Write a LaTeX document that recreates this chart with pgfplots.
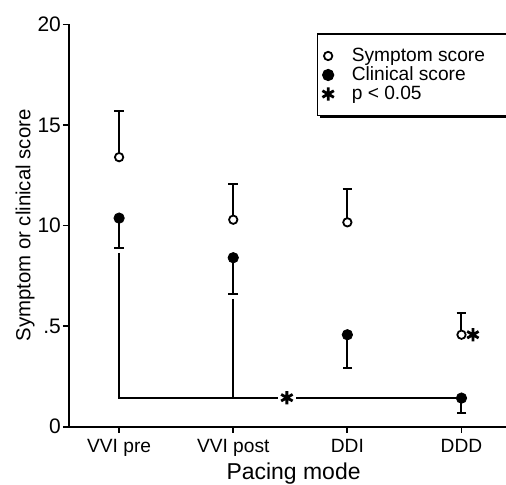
\documentclass[border=0pt]{standalone}
\usepackage{fontspec}
\setmainfont{Liberation Sans}
\usepackage{pgfplots}
\pgfplotsset{compat=1.18}
\usetikzlibrary{shadows}
\begin{document}
\begin{tikzpicture}
\begin{axis}[
  name=ax,
  x=57.15pt, y=10.07pt,
  xmin=-0.44, xmax=3.39, ymin=0, ymax=20,
  axis x line=bottom, axis y line=left,
  axis line style={-, line width=1.1pt},
  tick align=outside, major tick length=3pt,
  tick style={line width=0.9pt, black},
  xtick={0,1,2,3}, xticklabels={VVI pre, VVI post, DDI, DDD},
  ytick={0,5,10,15,20}, yticklabels={0,.5,10,15,20},
  /pgf/number format/assume math mode=true,
  xticklabel style={font=\fontsize{9.6}{11}\selectfont},
  yticklabel style={font=\fontsize{10.5}{12}\selectfont, xshift=2.5pt},
  xlabel={Pacing mode}, ylabel={Symptom or clinical score},
  every axis x label/.style={at={(axis description cs:0.514,-0.117)}, anchor=center, font=\fontsize{11.5}{13}\selectfont},
  every axis y label/.style={at={(axis description cs:-0.1,0.5)}, rotate=90, anchor=center, font=\fontsize{10.2}{12}\selectfont},
  clip=false,
  legend style={at={(axis cs:1.73,19.55)}, anchor=north west, draw=black, line width=0.9pt,
    fill=white, font=\fontsize{9.6}{11}\selectfont,
    nodes={font=\fontsize{9.6}{11}\selectfont, inner ysep=1.2pt},
    inner xsep=2.5pt, inner ysep=5.5pt, row sep=-1.2pt,
    /tikz/every odd column/.append style={column sep=7pt},
    drop shadow={shadow xshift=1.3pt, shadow yshift=-1.3pt, fill=black, opacity=1}},
  legend cell align=left,
]
% bracket lines
\addplot[forget plot, line width=0.9pt] coordinates {(0,8.64) (0,1.44) (1.39,1.44)};
\addplot[forget plot, line width=0.9pt] coordinates {(1.55,1.44) (3,1.44)};
\addplot[forget plot, line width=0.9pt] coordinates {(1,6.35) (1,1.44)};
% symptom score
\addplot[only marks, mark=*, mark size=2.1pt, mark options={fill=white, draw=black, line width=0.9pt},
  error bars/.cd, y dir=plus, y explicit,
  error bar style={line width=1pt, black},
  error mark options={rotate=90, mark size=2.4pt, line width=1pt, black}]
  table[x=x, y=y, y error=e] {
x y e
0 13.40 2.30
1 10.29 1.80
2 10.16 1.64
3 4.57 1.07
};
\addlegendentry{Symptom score\hspace*{6.5pt}}
% clinical score
\addplot[only marks, mark=*, mark size=2.6pt, mark options={fill=black, draw=black},
  error bars/.cd, y dir=minus, y explicit,
  error bar style={line width=1pt, black},
  error mark options={rotate=90, mark size=2.4pt, line width=1pt, black}]
  table[x=x, y=y, y error=e] {
x y e
0 10.37 1.50
1 8.40 1.78
2 4.57 1.63
3 1.42 0.73
};
\addlegendentry{Clinical score}
% significance
\addplot[only marks, mark=asterisk, mark size=3.3pt, mark options={line width=1.4pt, black}]
  coordinates {(1.47,1.44) (3.1,4.57)};
\addlegendentry{p < 0.05}
\end{axis}
\pgfresetboundingbox
\path[use as bounding box] ([shift={(-34.5pt,-29pt)}]ax.south west) rectangle ([shift={(0pt,12.25pt)}]ax.north east);
\end{tikzpicture}
\end{document}
